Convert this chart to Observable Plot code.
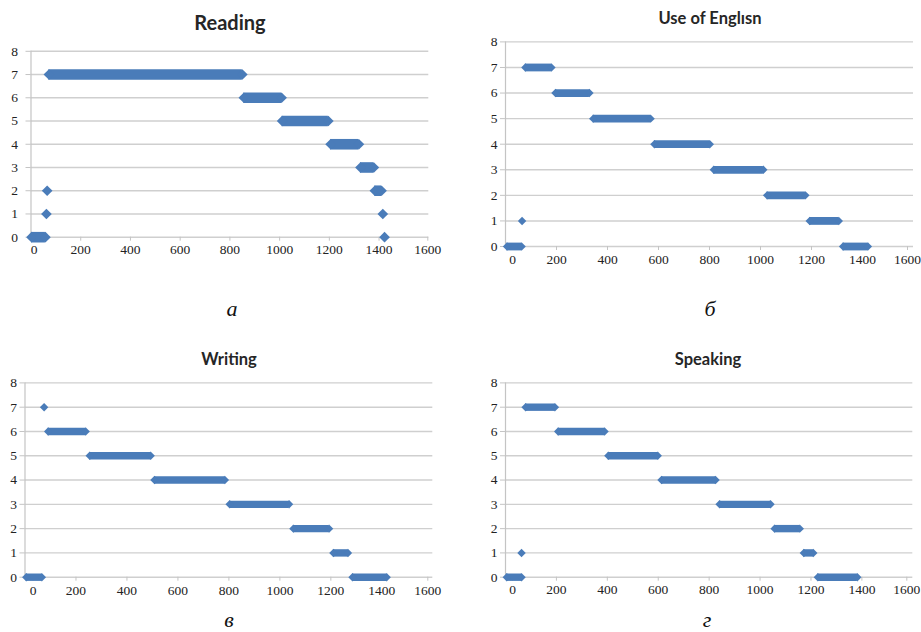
<!DOCTYPE html>
<html><head><meta charset="utf-8">
<script src="https://cdn.jsdelivr.net/npm/d3@7"></script>
<script src="https://cdn.jsdelivr.net/npm/@observablehq/plot@0.6"></script>
<style>
body{margin:0;background:#fff;}
#wrap{position:relative;width:921px;height:632px;overflow:hidden;background:#fff;}
.title{position:absolute;font-family:Lato,"Open Sans",sans-serif;font-weight:700;color:#262626;transform:translate(-50%,-50%);white-space:nowrap;}
.cap{position:absolute;font-family:"Liberation Serif",serif;font-style:italic;font-size:22px;line-height:1;color:#111;transform:translate(-50%,-50%);}
.panel{position:absolute;}
.panel svg{overflow:visible;}
.panel svg text{font-family:"Liberation Serif","DejaVu Serif",serif !important;}
</style></head><body><div id="wrap"></div>
<script>
// Axis ticks
const xTicks = [0, 200, 400, 600, 800, 1000, 1200, 1400, 1600];
const yTicks = [0, 1, 2, 3, 4, 5, 6, 7, 8];

// Panel titles and captions
const titles = ["Reading", "Use of Englısn", "Writing", "Speaking"];
const captions = ["а", "б", "в", "г"];

// Reading: runs of points (level, first x, last x)
const readingLevel = [7, 6, 5, 4, 3, 2, 2, 1, 1, 0, 0];
const readingStart = [72, 856, 1010, 1205, 1325, 1383, 65, 62, 1415, 2, 1422];
const readingEnd   = [850, 1008, 1196, 1319, 1379, 1410, 65, 62, 1415, 58, 1422];

// Use of English
const useLevel = [7, 6, 5, 4, 3, 2, 1, 1, 0, 0];
const useStart = [78, 196, 344, 584, 817, 1026, 1193, 65, 1324, 6];
const useEnd   = [180, 329, 569, 801, 1011, 1176, 1307, 65, 1421, 63];

// Writing
const writingLevel = [7, 6, 5, 4, 3, 2, 1, 0, 0];
const writingStart = [75, 91, 254, 508, 803, 1053, 1210, 1285, 5];
const writingEnd   = [75, 238, 493, 784, 1036, 1193, 1267, 1419, 66];

// Speaking
const speakingLevel = [7, 6, 5, 4, 3, 2, 1, 1, 0, 0];
const speakingStart = [79, 207, 404, 613, 841, 1057, 1172, 63, 1227, 5];
const speakingEnd   = [194, 389, 598, 825, 1041, 1156, 1209, 63, 1382, 63];

const BLUE = "#4a7cb9";
const wrap = document.getElementById("wrap");

function makeRows(levels, starts, ends) {
  return levels.map((l, i) => ({level: l, start: starts[i], end: ends[i]}));
}

const panels = [
  {rows: makeRows(readingLevel, readingStart, readingEnd), left: 0, top: 30, width: 460, height: 240,
   mt: 20.8, mb: 33.3, ml: 30.5, mr: 31.7, r: 4.8, bw: 10.6, ytp: 8, xtp: 3, dx0: 3, dxEnd: -1,
   title: [230, 22, 20], cap: [232, 309]},
  {rows: makeRows(useLevel, useStart, useEnd), left: 460, top: 20, width: 461, height: 250,
   mt: 21.4, mb: 24, ml: 45, mr: 8, r: 3.8, bw: 7.8, ytp: 3, xtp: 4, dx0: 7, dxEnd: -6,
   title: [710, 18, 16.5], cap: [710, 309]},
  {rows: makeRows(writingLevel, writingStart, writingEnd), left: 0, top: 360, width: 460, height: 240,
   mt: 22.4, mb: 23.3, ml: 24.5, mr: 27.7, r: 3.8, bw: 7.4, ytp: 3, xtp: 4, dx0: 8, dxEnd: -5,
   title: [229, 359, 16.5], cap: [229, 620]},
  {rows: makeRows(speakingLevel, speakingStart, speakingEnd), left: 460, top: 360, width: 461, height: 240,
   mt: 22.4, mb: 23.3, ml: 45, mr: 8.7, r: 3.8, bw: 7.4, ytp: 3, xtp: 3, dx0: 7, dxEnd: -6,
   title: [708, 359, 16.5], cap: [707, 620]}
];

const fmt = d => String(d);
const axisText = {fontFamily: "Liberation Serif", fontSize: 13.5, fill: "#222", stroke: "#c4c4c4", label: null, tickFormat: fmt};

panels.forEach((p, i) => {
  const pts = p.rows.flatMap(d => d.start === d.end ? [{x: d.start, y: d.level}] : [{x: d.start, y: d.level}, {x: d.end, y: d.level}]);
  const midTicks = xTicks.slice(1, -1);
  const chart = Plot.plot({
    width: p.width, height: p.height,
    marginTop: p.mt, marginBottom: p.mb, marginLeft: p.ml, marginRight: p.mr,
    x: {domain: [0, 1600]},
    y: {domain: [0, 8]},
    style: {fontFamily: "Liberation Serif", fontSize: "13.5px", color: "#222", background: "transparent", overflow: "visible"},
    marks: [
      Plot.gridY(yTicks, {stroke: "#cfcfcf", strokeOpacity: 1, strokeWidth: 1.4}),
      Plot.ruleX([0], {stroke: "#c4c4c4", strokeWidth: 1.2}),
      Plot.axisY(yTicks, {...axisText, tickSize: 5, tickPadding: p.ytp}),
      Plot.axisX(midTicks, {...axisText, tickSize: 4, tickPadding: p.xtp}),
      Plot.axisX([xTicks[0]], {...axisText, tickSize: 4, tickPadding: p.xtp, dx: p.dx0}),
      Plot.axisX([xTicks[xTicks.length - 1]], {...axisText, tickSize: 4, tickPadding: p.xtp, dx: p.dxEnd}),
      Plot.ruleY(p.rows, {y: "level", x1: "start", x2: "end", stroke: BLUE, strokeWidth: p.bw}),
      Plot.dot(pts, {x: "x", y: "y", symbol: "diamond2", r: p.r, fill: BLUE, stroke: "none"})
    ]
  });
  const holder = document.createElement("div");
  holder.className = "panel";
  holder.style.left = p.left + "px";
  holder.style.top = p.top + "px";
  holder.appendChild(chart);
  wrap.appendChild(holder);

  const t = document.createElement("div");
  t.className = "title";
  t.textContent = titles[i];
  t.style.left = p.title[0] + "px";
  t.style.top = p.title[1] + "px";
  t.style.fontSize = p.title[2] + "px";
  wrap.appendChild(t);

  const c = document.createElement("div");
  c.className = "cap";
  c.textContent = captions[i];
  c.style.left = p.cap[0] + "px";
  c.style.top = p.cap[1] + "px";
  wrap.appendChild(c);
});
</script>
</body></html>
